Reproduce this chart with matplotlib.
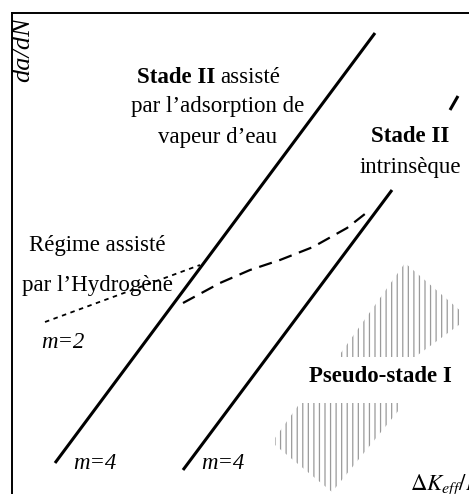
import matplotlib
matplotlib.use("Agg")
import matplotlib.pyplot as plt
from matplotlib.patches import Polygon

plt.rcParams['font.family'] = ['Liberation Serif', 'DejaVu Serif']
plt.rcParams['mathtext.fontset'] = 'stix'
plt.rcParams['hatch.linewidth'] = 0.9

# Schematic data (arbitrary log units: x = log dK_eff/E, y = log da/dN)
stage2_vapour_x = [43, 363]
stage2_vapour_y = [31, 461]
stage2_intr_x = [171, 380]
stage2_intr_y = [24, 304]
stage2_intr_tail_x = [438, 446]
stage2_intr_tail_y = [384, 398]
hydrogen_x = [33, 188]
hydrogen_y = [172, 229]
transition_x = [171, 208, 238, 268, 301, 335, 358]
transition_y = [191, 211, 224, 234, 247, 266, 284]
pseudo_upper_x = [326, 393, 451, 451, 403]
pseudo_upper_y = [137, 231, 181, 172, 137]
pseudo_lower_x = [288, 387, 387, 320, 263, 263]
pseudo_lower_y = [91, 91, 84, 2, 49, 56]

fig = plt.figure(figsize=(4.69, 4.94), dpi=100)
ax = fig.add_axes([12/469, 0, 1 - 12/469, 1 - 13/494])
ax.set_xlim(0, 457)
ax.set_ylim(0, 481)
ax.set_xticks([])
ax.set_yticks([])
for s in ['right', 'bottom']:
    ax.spines[s].set_visible(False)
for s in ['left', 'top']:
    ax.spines[s].set_linewidth(1.4)

ax.plot(stage2_vapour_x, stage2_vapour_y, color='black', lw=2.2, solid_capstyle='butt')
ax.plot(stage2_intr_x, stage2_intr_y, color='black', lw=2.2, solid_capstyle='butt')
ax.plot(stage2_intr_tail_x, stage2_intr_tail_y, color='black', lw=2.2, solid_capstyle='butt')
ax.plot(hydrogen_x, hydrogen_y, color='black', lw=1.3, linestyle=(0, (2.5, 2.5)))
ax.plot(transition_x, transition_y, color='black', lw=1.6, linestyle=(0, (6, 3.5)))

for px, py in [(pseudo_upper_x, pseudo_upper_y), (pseudo_lower_x, pseudo_lower_y)]:
    poly = Polygon(list(zip(px, py)), closed=True, facecolor='none',
                   edgecolor='#9a9a9a', linewidth=0, hatch='|||')
    ax.add_patch(poly)

fs = 16.5
ax.text(203, 416, 'Stade II', fontsize=fs, fontweight='bold', ha='right', va='center')
ax.text(208, 416, 'assisté', fontsize=fs, ha='left', va='center')
ax.text(206, 387, 'par l\u2019adsorption de', fontsize=fs, ha='center', va='center')
ax.text(206, 357, 'vapeur d\u2019eau', fontsize=fs, ha='center', va='center')
ax.text(398, 357, 'Stade II', fontsize=fs, fontweight='bold', ha='center', va='center')
ax.text(398, 327, 'intrinsèque', fontsize=fs, ha='center', va='center')
ax.text(85, 249, 'Régime assisté', fontsize=fs, ha='center', va='center')
ax.text(85, 209, 'par l\u2019Hydrogène', fontsize=fs, ha='center', va='center')
ax.text(51, 152, 'm=2', fontsize=fs, style='italic', ha='center', va='center')
ax.text(83, 31, 'm=4', fontsize=fs, style='italic', ha='center', va='center')
ax.text(211, 31, 'm=4', fontsize=fs, style='italic', ha='center', va='center')
ax.text(368, 117, 'Pseudo-stade I', fontsize=fs, fontweight='bold', ha='center', va='center')
ax.text(398, 9, r'$\Delta K_{eff}/E$', fontsize=fs, ha='left', va='center')
ax.text(11, 444, 'da/dN', fontsize=19, style='italic', rotation=90, ha='center', va='center')

fig.savefig('out.png', dpi=100)
